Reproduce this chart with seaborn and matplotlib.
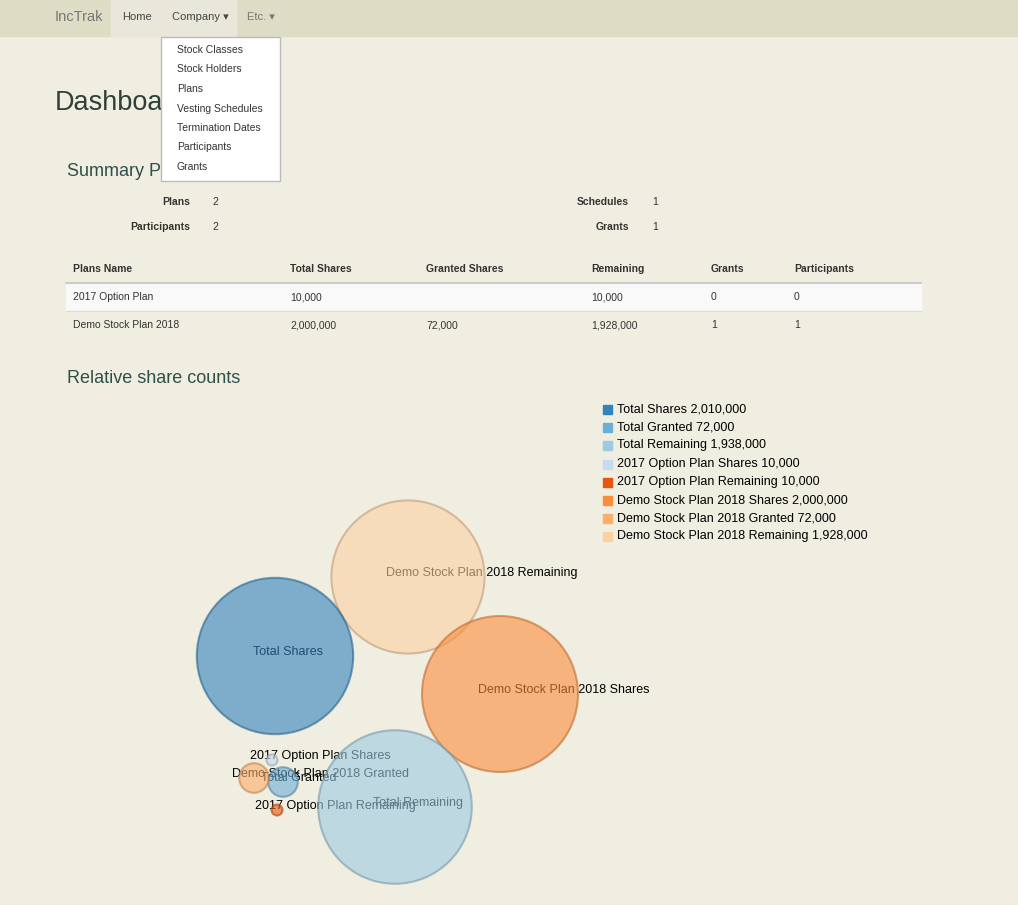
import matplotlib
matplotlib.use("Agg")
import matplotlib.pyplot as plt
import matplotlib.patches as mpatches
import matplotlib.colors as mcolors
import seaborn as sns
import numpy as np
import pandas as pd

sns.set_theme(style="white")
plt.rcParams['font.family'] = ['Liberation Sans', 'DejaVu Sans']

# ---- data ----
bubble_labels = ["Demo Stock Plan 2018 Remaining", "Total Shares", "Demo Stock Plan 2018 Shares",
                 "Total Remaining", "Total Granted", "Demo Stock Plan 2018 Granted",
                 "2017 Option Plan Shares", "2017 Option Plan Remaining"]
bubble_values = [1928000, 2010000, 2000000, 1938000, 72000, 72000, 10000, 10000]
bubble_x = [408, 275, 500, 395, 283, 254, 272, 277]
bubble_y = [577, 656, 694, 807, 782, 778, 760, 810]
bubble_colors = ["#fdd0a2", "#3182bd", "#fd8d3c", "#9ecae1", "#6baed6", "#fdae6b", "#c6dbef", "#e6550d"]

legend_labels = ["Total Shares 2,010,000", "Total Granted 72,000", "Total Remaining 1,938,000",
                 "2017 Option Plan Shares 10,000", "2017 Option Plan Remaining 10,000",
                 "Demo Stock Plan 2018 Shares 2,000,000", "Demo Stock Plan 2018 Granted 72,000",
                 "Demo Stock Plan 2018 Remaining 1,928,000"]
legend_colors = ["#3182bd", "#6baed6", "#9ecae1", "#c6dbef", "#e6550d", "#fd8d3c", "#fdae6b", "#fdd0a2"]

table_header = ["Plans Name", "Total Shares", "Granted Shares", "Remaining", "Grants", "Participants"]
table_rows = [["2017 Option Plan", "10,000", "", "10,000", "0", "0"],
              ["Demo Stock Plan 2018", "2,000,000", "72,000", "1,928,000", "1", "1"]]
menu_items = ["Stock Classes", "Stock Holders", "Plans", "Vesting Schedules",
              "Termination Dates", "Participants", "Grants"]

W, H = 1018, 905
fig = plt.figure(figsize=(W / 100, H / 100), dpi=100)
fig.patch.set_facecolor("#f0eee1")
ax = fig.add_axes([0, 0, 1, 1])
ax.set_facecolor("#f0eee1")

# navbar
ax.add_patch(mpatches.Rectangle((0, 0), W, 36, color="#dddcc4", zorder=1))
ax.add_patch(mpatches.Rectangle((111, 0), 125, 36, color="#e8e7da", zorder=1))
ax.text(55, 17, "IncTrak", fontsize=10.5, color="#777", va="center")
ax.text(122, 17, "Home", fontsize=8, color="#444", va="center")
ax.text(172, 17, "Company ▾", fontsize=8, color="#444", va="center")
ax.text(247, 17, "Etc. ▾", fontsize=8, color="#777", va="center")

# headings
ax.text(55, 103, "Dashboard", fontsize=19.5, color="#2f3f3a", va="center", zorder=2)
ax.text(67, 172, "Summary Plans", fontsize=13, color="#2f4f4a", va="center", zorder=2)
ax.text(67, 378, "Relative share counts", fontsize=13, color="#2f4f4a", va="center")

# summary
for lbl, val, xl, xv, y in [("Plans", "2", 190, 212, 202), ("Participants", "2", 190, 212, 227),
                            ("Schedules", "1", 629, 652, 202), ("Grants", "1", 629, 652, 227)]:
    ax.text(xl, y, lbl, fontsize=7.5, fontweight="bold", ha="right", va="center", color="#333")
    ax.text(xv, y, val, fontsize=7.5, va="center", color="#333")

# table
col_x = [73, 290, 426, 591, 711, 794]
for cx, h in zip(col_x, table_header):
    ax.text(cx, 269, h, fontsize=7.5, fontweight="bold", va="center", color="#333")
ax.plot([66, 921], [283, 283], color="#ccc", lw=1.5)
ax.add_patch(mpatches.Rectangle((66, 284), 855, 27, color="#f9f9f9"))
ax.plot([66, 921], [311, 311], color="#ddd", lw=1)
for ri, row in enumerate(table_rows):
    for cx, v in zip(col_x, row):
        ax.text(cx, 297 + ri * 28, v, fontsize=7.5, va="center", color="#333")

# dropdown menu
ax.add_patch(mpatches.Rectangle((161, 37), 119, 144, facecolor="white", edgecolor="#bbb", lw=1, zorder=5))
for i, m in enumerate(menu_items):
    ax.text(177, 50 + i * 19.5, m, fontsize=7.5, va="center", color="#333", zorder=6)

# bubble labels (drawn beneath bubbles so the overlapped part looks faded)
for x, y, l in zip(bubble_x, bubble_y, bubble_labels):
    ax.text(x - 22, y - 4, l, fontsize=9, ha="left", va="center", color="black", zorder=2)

# bubbles
vals = np.array(bubble_values, dtype=float)
r_px = 78 * np.sqrt(vals / 2000000)
df = pd.DataFrame({"x": bubble_x, "y": bubble_y, "label": bubble_labels,
                   "s": (2 * r_px * 0.72) ** 2})
edges = []
for c in bubble_colors:
    rgb = np.array(mcolors.to_rgb(c)) * 0.75
    edges.append(tuple(rgb))
sns.scatterplot(data=df, x="x", y="y", hue="label", palette=dict(zip(bubble_labels, bubble_colors)),
                s=df["s"].values, alpha=0.6, edgecolor=edges,
                linewidth=1.5, legend=False, ax=ax, zorder=3)

# legend
for i, (l, c) in enumerate(zip(legend_labels, legend_colors)):
    y = 409 + i * 18.2
    ax.add_patch(mpatches.Rectangle((603, y - 4), 9, 9, color=c))
    ax.text(617, y, l, fontsize=9, va="center", color="black")

ax.set_xlim(0, W); ax.set_ylim(H, 0); ax.axis("off")
fig.savefig("out.png", dpi=100, facecolor=fig.get_facecolor())
